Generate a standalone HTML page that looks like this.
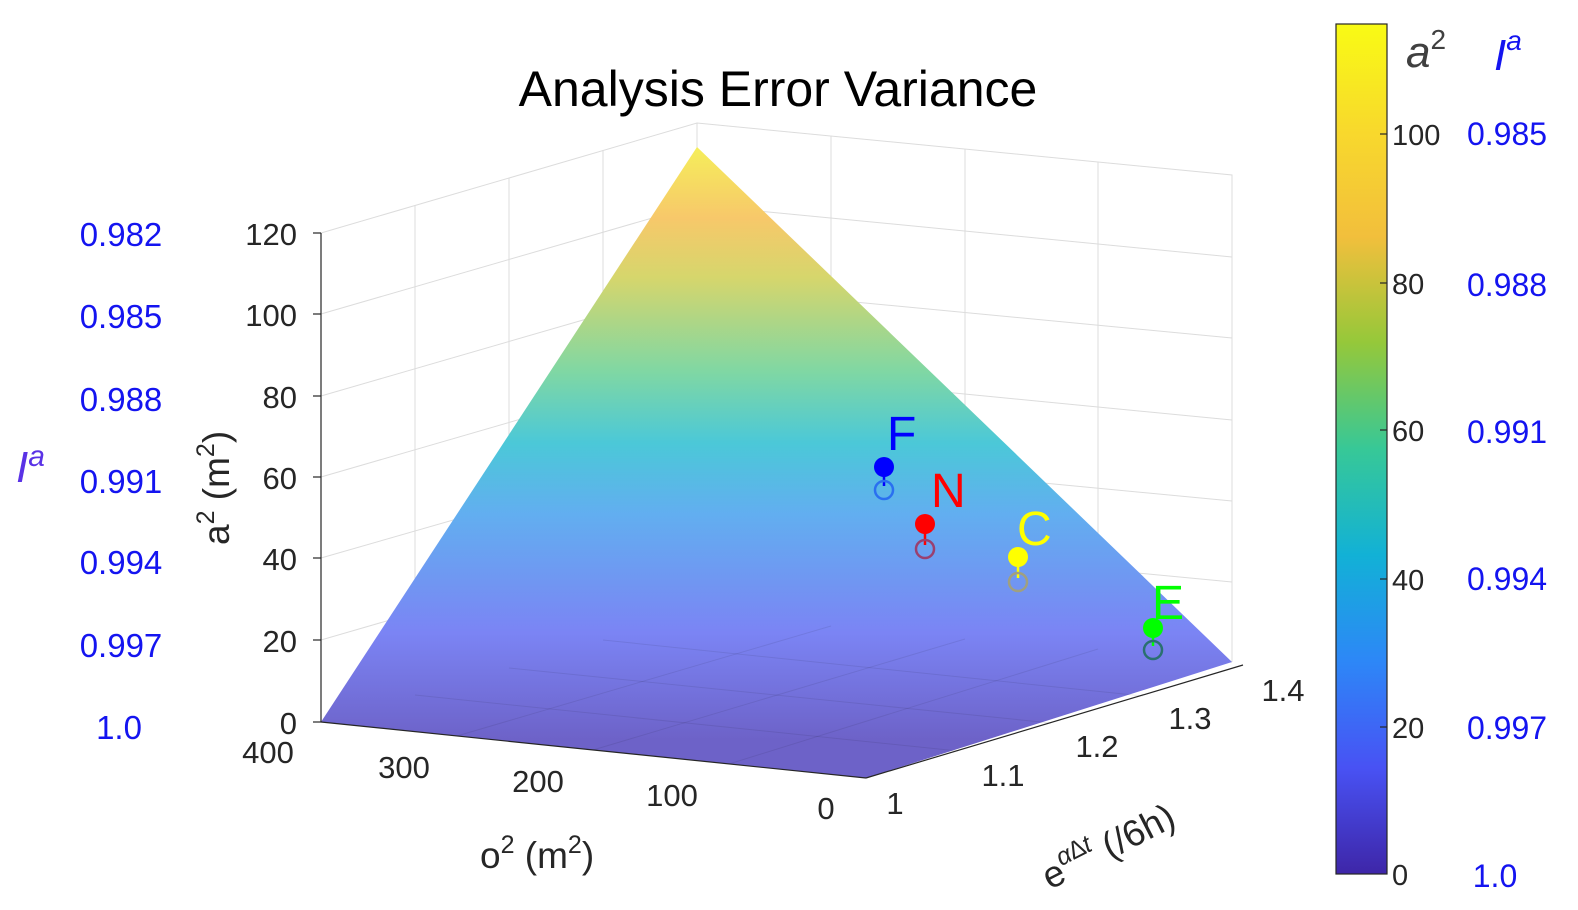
<!DOCTYPE html>
<html><head><meta charset="utf-8"><style>
body{margin:0;background:#fff;}
svg{display:block;font-family:"Liberation Sans",Arial,sans-serif;}
</style></head><body>
<svg width="1578" height="910" viewBox="0 0 1578 910" xmlns="http://www.w3.org/2000/svg">
<defs>
<linearGradient id="cb" x1="0" y1="1" x2="0" y2="0">
<stop offset="0" stop-color="#3e26a8"/>
<stop offset="0.125" stop-color="#4852f4"/>
<stop offset="0.25" stop-color="#2d87f7"/>
<stop offset="0.375" stop-color="#12b1d6"/>
<stop offset="0.5" stop-color="#37c897"/>
<stop offset="0.625" stop-color="#95c83a"/>
<stop offset="0.75" stop-color="#f2bf3c"/>
<stop offset="0.875" stop-color="#f8d92c"/>
<stop offset="1" stop-color="#f9fb14"/>
</linearGradient>
<linearGradient id="sf" gradientUnits="userSpaceOnUse" x1="0" y1="740" x2="0" y2="147">
<stop offset="0" stop-color="#6d62c8"/>
<stop offset="0.18" stop-color="#7b84f4"/>
<stop offset="0.38" stop-color="#62aef0"/>
<stop offset="0.5" stop-color="#4bc8d8"/>
<stop offset="0.62" stop-color="#7fd7a4"/>
<stop offset="0.78" stop-color="#d6d66c"/>
<stop offset="0.88" stop-color="#f7c86a"/>
<stop offset="1" stop-color="#f5ee5a"/>
</linearGradient>
</defs>
<g stroke="#dcdcdc" stroke-width="1" fill="none">
<polyline points="321,233 697,123 1232,175 1232,662"/>
<line x1="697" y1="123" x2="697" y2="613"/>
<line x1="415" y1="205" x2="415" y2="695"/>
<line x1="509" y1="178" x2="509" y2="668"/>
<line x1="603" y1="150" x2="603" y2="640"/>
<line x1="831" y1="136" x2="831" y2="626"/>
<line x1="965" y1="149" x2="965" y2="639"/>
<line x1="1098" y1="162" x2="1098" y2="649"/>
<line x1="321" y1="314" x2="697" y2="205"/><line x1="697" y1="205" x2="1232" y2="257"/>
<line x1="321" y1="396" x2="697" y2="287"/><line x1="697" y1="287" x2="1232" y2="338"/>
<line x1="321" y1="477" x2="697" y2="368"/><line x1="697" y1="368" x2="1232" y2="420"/>
<line x1="321" y1="558" x2="697" y2="450"/><line x1="697" y1="450" x2="1232" y2="501"/>
<line x1="321" y1="640" x2="697" y2="531"/><line x1="697" y1="531" x2="1232" y2="582"/>
<line x1="321" y1="722" x2="697" y2="613"/><line x1="697" y1="613" x2="1232" y2="662"/>
</g>
<polygon points="697,147 321,722 866,778 1232,662" fill="url(#sf)"/>
<g stroke="#000" stroke-opacity="0.08" stroke-width="1" fill="none">
<line x1="415" y1="695" x2="958" y2="751"/><line x1="509" y1="668" x2="1051" y2="723"/><line x1="603" y1="640" x2="1143" y2="696"/>
<line x1="457" y1="736" x2="831" y2="626"/><line x1="593" y1="750" x2="965" y2="639"/><line x1="729" y1="764" x2="1098" y2="649"/>
</g>
<g stroke="#262626" stroke-width="1.2" fill="none">
<line x1="321" y1="233" x2="321" y2="722"/>
<line x1="321" y1="722" x2="866" y2="778"/>
<line x1="866" y1="778" x2="1243" y2="665"/>
<line x1="313" y1="233" x2="321" y2="233"/><line x1="313" y1="314" x2="321" y2="314"/><line x1="313" y1="396" x2="321" y2="396"/><line x1="313" y1="477" x2="321" y2="477"/><line x1="313" y1="558" x2="321" y2="558"/><line x1="313" y1="640" x2="321" y2="640"/><line x1="313" y1="722" x2="321" y2="722"/>
</g>
<g font-size="31" fill="#262626" text-anchor="end">
<text x="297" y="245">120</text><text x="297" y="326">100</text><text x="297" y="408">80</text><text x="297" y="489">60</text><text x="297" y="570">40</text><text x="297" y="652">20</text><text x="297" y="734">0</text>
</g>
<g font-size="31" fill="#262626" text-anchor="middle">
<text x="268" y="763">400</text><text x="404" y="778">300</text><text x="538" y="792">200</text><text x="672" y="806">100</text><text x="826" y="819">0</text>
<text x="895" y="814">1</text><text x="1003" y="786">1.1</text><text x="1097" y="757">1.2</text><text x="1190" y="729">1.3</text><text x="1283" y="701">1.4</text>
</g>
<text x="480" y="868" font-size="37" fill="#262626">o<tspan dy="-15" font-size="25">2</tspan><tspan dy="15"> (m</tspan><tspan dy="-15" font-size="25">2</tspan><tspan dy="15">)</tspan></text>
<text transform="translate(229,545) rotate(-90)" font-size="37" fill="#262626">a<tspan dy="-15" font-size="25">2</tspan><tspan dy="15"> (m</tspan><tspan dy="-15" font-size="25">2</tspan><tspan dy="15">)</tspan></text>
<text transform="translate(1050,890) rotate(-27)" font-size="37" fill="#262626">e<tspan dy="-16" font-size="25" font-style="italic">α∆t</tspan><tspan dy="16"> (/6h)</tspan></text>
<text x="778" y="106" font-size="50" fill="#000" text-anchor="middle">Analysis Error Variance</text>
<g font-size="33" fill="#1414f0" text-anchor="middle">
<text x="121" y="246">0.982</text><text x="121" y="328">0.985</text><text x="121" y="411">0.988</text><text x="121" y="493">0.991</text><text x="121" y="574">0.994</text><text x="121" y="657">0.997</text><text x="119" y="739">1.0</text>
</g>
<text x="16" y="482" font-size="44" font-style="italic" fill="#5a32e6">I<tspan dy="-16" font-size="30">a</tspan></text>
<g stroke-width="2.5" fill="none">
<line x1="884" y1="467" x2="884" y2="486" stroke="#0000ff"/><circle cx="884" cy="490" r="9" stroke="#2a70f0"/><circle cx="884" cy="467" r="10" fill="#0000ff" stroke="none"/>
<line x1="925" y1="524" x2="925" y2="545" stroke="#ff0000"/><circle cx="925" cy="549" r="9" stroke="#9a4070"/><circle cx="925" cy="524" r="10" fill="#ff0000" stroke="none"/>
<line x1="1018" y1="557" x2="1018" y2="578" stroke="#ffff00"/><circle cx="1018" cy="582" r="9" stroke="#a0a080"/><circle cx="1018" cy="557" r="10" fill="#ffff00" stroke="none"/>
<line x1="1153" y1="628" x2="1153" y2="646" stroke="#00ff00"/><circle cx="1153" cy="650" r="9" stroke="#2a7070"/><circle cx="1153" cy="628" r="10" fill="#00ff00" stroke="none"/>
</g>
<g font-size="48">
<text x="887" y="450" fill="#0000ff">F</text>
<text x="931" y="507" fill="#ff0000">N</text>
<text x="1017" y="545" fill="#ffff00">C</text>
<text x="1152" y="619" fill="#00ff00">E</text>
</g>
<rect x="1336" y="24" width="51" height="850" fill="url(#cb)" stroke="#262626" stroke-width="1.2"/>
<g stroke="#262626" stroke-width="1.2">
<line x1="1380" y1="727" x2="1387" y2="727"/><line x1="1380" y1="579" x2="1387" y2="579"/><line x1="1380" y1="430" x2="1387" y2="430"/><line x1="1380" y1="283" x2="1387" y2="283"/><line x1="1380" y1="134" x2="1387" y2="134"/>
</g>
<g font-size="29" fill="#262626">
<text x="1392" y="885">0</text><text x="1392" y="738">20</text><text x="1392" y="590">40</text><text x="1392" y="441">60</text><text x="1392" y="294">80</text><text x="1392" y="145">100</text>
</g>
<text x="1406" y="67" font-size="44" font-style="italic" fill="#404040">a<tspan dy="-18" font-size="28" font-style="normal">2</tspan></text>
<text x="1494" y="70" font-size="44" font-style="italic" fill="#1414f0">I<tspan dy="-20" font-size="28">a</tspan></text>
<g font-size="32" fill="#1414f0" text-anchor="middle">
<text x="1507" y="145">0.985</text><text x="1507" y="296">0.988</text><text x="1507" y="443">0.991</text><text x="1507" y="590">0.994</text><text x="1507" y="739">0.997</text><text x="1495" y="887">1.0</text>
</g>
</svg>
</body></html>
